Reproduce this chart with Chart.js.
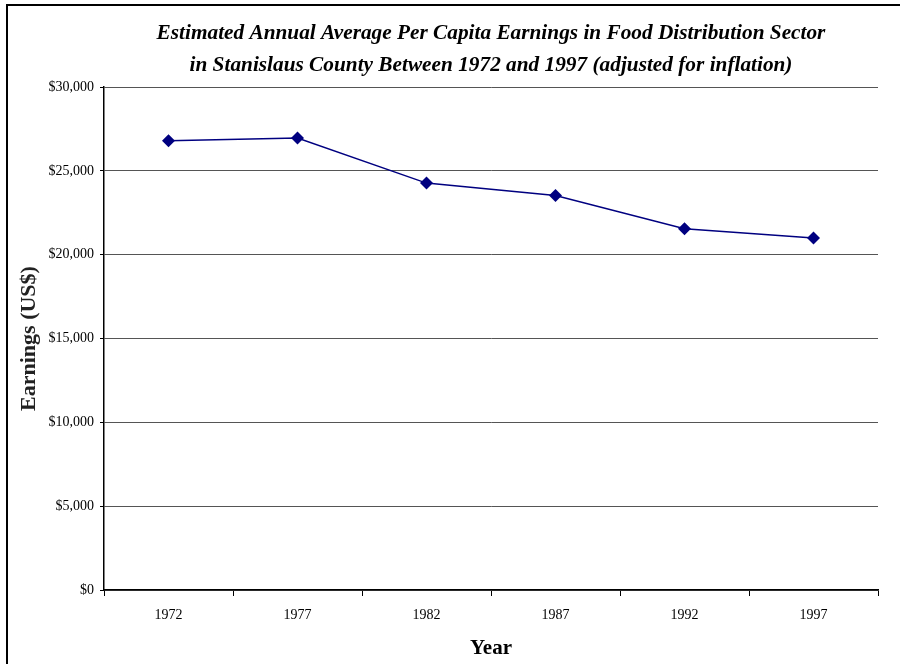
<!DOCTYPE html>
<html>
<head>
<meta charset="utf-8">
<script src="https://cdn.jsdelivr.net/npm/chart.js@4.4.0/dist/chart.umd.min.js"></script>
<style>
  html, body { margin: 0; padding: 0; background: #fff; overflow: hidden; }
  #wrap { position: relative; width: 900px; height: 664px; overflow: hidden; }
  #frame {
    position: absolute; left: 6px; top: 4px;
    width: 1000px; height: 1000px;
    border: 2px solid #000; box-sizing: border-box;
  }
  #chart { position: absolute; left: 0; top: 0; }
</style>
</head>
<body>
<div id="wrap">
  <div id="frame"></div>
  <canvas id="chart" width="900" height="664"></canvas>
</div>
<script>
// ----- Data -----
const years = ["1972", "1977", "1982", "1987", "1992", "1997"];
const earnings = [26800, 26960, 24270, 23530, 21550, 20990];
const yTicks = [0, 5000, 10000, 15000, 20000, 25000, 30000];

const serif = "'Liberation Serif', 'Times New Roman', serif";

function money(v) {
  return "$" + v.toLocaleString("en-US");
}

// keep the title centred over the plot area rather than the whole canvas
const centerTitle = {
  id: "centerTitle",
  afterLayout(chart) {
    const block = chart.titleBlock;
    if (!block) return;
    block.left = chart.chartArea.left;
    block.right = chart.chartArea.right;
    block.width = block.right - block.left;
  },
};

// ----- Chart -----
document.addEventListener("DOMContentLoaded", () => {
  const ctx = document.getElementById("chart").getContext("2d");

  new Chart(ctx, {
    type: "line",
    data: {
      labels: years,
      datasets: [
        {
          label: "Earnings",
          data: earnings,
          borderColor: "#000080",
          backgroundColor: "#000080",
          borderWidth: 1.5,
          tension: 0,
          fill: false,
          pointStyle: "rectRot",
          pointRadius: 6.5,
          pointBorderWidth: 0,
          pointBackgroundColor: "#000080",
        },
      ],
    },
    plugins: [centerTitle],
    options: {
      responsive: false,
      animation: false,
      devicePixelRatio: 1,
      layout: { padding: { left: 0, right: 22, top: 0, bottom: 0 } },
      plugins: {
        legend: { display: false },
        tooltip: { enabled: false },
        title: {
          display: true,
          text: [
            "Estimated Annual Average Per Capita Earnings in Food Distribution Sector",
            "in Stanislaus County Between 1972 and 1997 (adjusted for inflation)",
          ],
          color: "#000",
          font: { family: serif, size: 21.3, weight: "bold", style: "italic", lineHeight: 1.48 },
          padding: { top: 18, bottom: 6 },
        },
      },
      scales: {
        x: {
          type: "category",
          offset: true,
          grid: {
            offset: true,
            drawOnChartArea: false,
            drawTicks: true,
            tickLength: 6,
            tickColor: "#000",
          },
          border: { color: "#000", width: 1.5 },
          ticks: {
            color: "#000",
            font: { family: serif, size: 14 },
            padding: 11,
            maxRotation: 0,
          },
          title: {
            display: true,
            text: "Year",
            color: "#000",
            font: { family: serif, size: 21, weight: "bold" },
            padding: { top: 0, bottom: 3 },
          },
          afterFit: (scale) => { scale.height = 74; },
        },
        y: {
          min: 0,
          max: 30000,
          afterBuildTicks: (scale) => {
            scale.ticks = yTicks.map((v) => ({ value: v }));
          },
          grid: {
            color: "#555",
            lineWidth: 1,
            drawTicks: true,
            tickLength: 4,
            tickColor: "#000",
          },
          border: { color: "#000", width: 1.5 },
          ticks: {
            color: "#000",
            font: { family: serif, size: 14 },
            padding: 6,
            callback: (v) => money(v),
          },
          title: {
            display: true,
            text: "Earnings (US$)",
            color: "#222",
            font: { family: serif, size: 22, weight: "bold" },
            padding: { top: 16, bottom: 0 },
          },
          afterFit: (scale) => { scale.width = 104; },
        },
      },
    },
  });
});
</script>
</body>
</html>
